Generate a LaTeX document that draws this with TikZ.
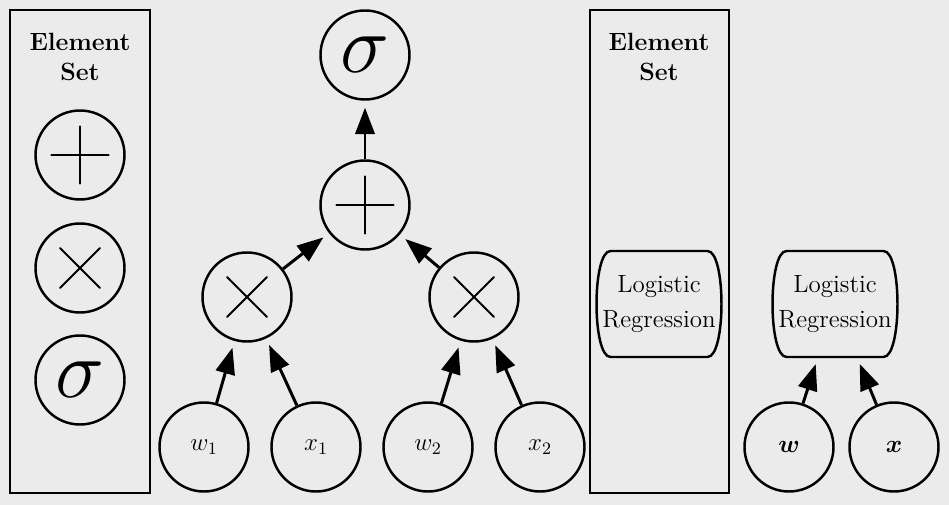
\RequirePackage{fix-cm}
\documentclass[tikz,border=0pt]{standalone}
\usepackage{amsmath,amssymb,bm}
\usetikzlibrary{arrows.meta}
\definecolor{bgc}{HTML}{EBEBEB}
\tikzset{
  txt/.style={font=\fontsize{14.2}{19.8}\selectfont},
  op/.style={circle,draw,line width=1.4pt,minimum size=1.78cm,inner sep=0pt},
  plusop/.style={op,path picture={\draw[line width=1.2pt,line cap=round]
    ([xshift=-.57cm]path picture bounding box.center)--([xshift=.57cm]path picture bounding box.center)
    ([yshift=-.57cm]path picture bounding box.center)--([yshift=.57cm]path picture bounding box.center);}},
  timesop/.style={op,path picture={\draw[line width=1.2pt,line cap=round]
    ([shift={(-.4,-.4)}]path picture bounding box.center)--([shift={(.4,.4)}]path picture bounding box.center)
    ([shift={(-.4,.4)}]path picture bounding box.center)--([shift={(.4,-.4)}]path picture bounding box.center);}},
  sigop/.style={op,font=\fontsize{47}{50}\selectfont},
  var/.style={op,txt},
  model/.style={rectangle,minimum width=2.5cm,minimum height=2.12cm,inner sep=0pt,align=center,txt},
  setbox/.style={draw,line width=1.6pt},
  settitle/.style={align=center,font=\fontsize{14.2}{17.6}\selectfont\bfseries}
}
\newcommand\lroutline[1]{\draw[line width=1.4pt,line join=round]
  ([shift={(-.97,1.06)}]#1.center) -- ([shift={(.97,1.06)}]#1.center)
  .. controls +(.373,0) and +(.373,0) .. ([shift={(.97,-1.06)}]#1.center)
  -- ([shift={(-.97,-1.06)}]#1.center)
  .. controls +(-.373,0) and +(-.373,0) .. cycle;}
\begin{document}
\begin{tikzpicture}[>={Triangle[length=15pt,width=11pt]},arr/.style={->,line width=1.7pt,shorten >=4pt}]
\fill[bgc] (0,0) rectangle (18.98,10.1);
\draw[setbox] (.2,.24) rectangle (3.0,9.9);
\node[settitle] (t1) at (1.6,8.96) {Element\\Set};
\node[plusop] (ep) at (1.6,7.0) {};
\node[timesop] (et) at (1.6,4.74) {};
\node[sigop] (es) at (1.6,2.5) {$\sigma$};
\node[sigop] (s) at (7.3,9.0) {$\sigma$};
\node[plusop] (p) at (7.3,6.0) {};
\node[timesop] (m1) at (4.94,4.16) {};
\node[timesop] (m2) at (9.48,4.16) {};
\node[var] (w1) at (4.08,1.16) {$w_1$};
\node[var] (x1) at (6.32,1.16) {$x_1$};
\node[var] (w2) at (8.56,1.16) {$w_2$};
\node[var] (x2) at (10.8,1.16) {$x_2$};
\draw[arr] (p)--(s);
\draw[arr] (m1)--(p);\draw[arr] (m2)--(p);
\draw[arr] (w1)--(m1);\draw[arr] (x1)--(m1);
\draw[arr] (w2)--(m2);\draw[arr] (x2)--(m2);
\draw[setbox] (11.8,.24) rectangle (14.58,9.9);
\node[settitle] (t2) at (13.18,8.96) {Element\\Set};
\node[model] (lr1) at (13.18,4.02) {Logistic\\Regression};\lroutline{lr1}
\node[model] (lr2) at (16.7,4.02) {Logistic\\Regression};\lroutline{lr2}
\node[var] (w) at (15.78,1.16) {$\bm{w}$};
\node[var] (x) at (17.88,1.16) {$\bm{x}$};
\draw[arr] (w)--(lr2);\draw[arr] (x)--(lr2);
\end{tikzpicture}
\end{document}
